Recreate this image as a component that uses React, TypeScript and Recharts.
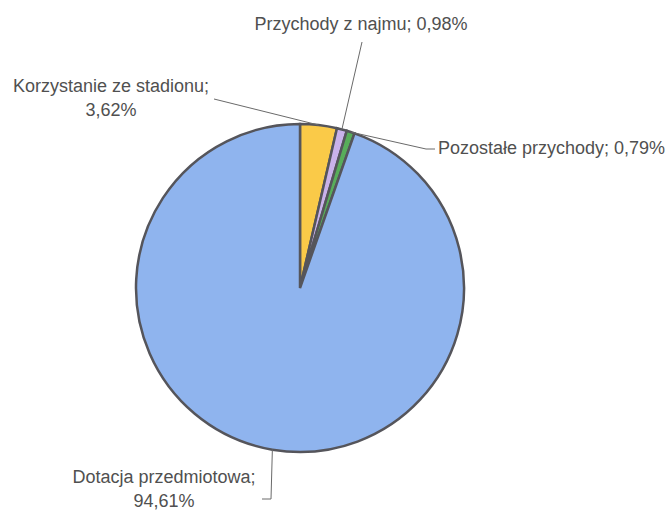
import { Cell, Pie, PieChart } from "recharts";

const categories = [
  "Korzystanie ze stadionu",
  "Przychody z najmu",
  "Pozostałe przychody",
  "Dotacja przedmiotowa",
];
const shares = [3.62, 0.98, 0.79, 94.61];
const colors = ["#FACA48", "#C9B2EA", "#58AD5A", "#8FB4EE"];

// where each label sits and how its leader line bends (lines = text rows)
const labelLayout = [
  { lines: 2, x: 111, y: 92, anchor: "middle", elbow: [[214, 99]] },
  { lines: 1, x: 361, y: 30, anchor: "middle", elbow: [[362, 42]] },
  { lines: 1, x: 438, y: 154, anchor: "start", elbow: [[426, 149], [435, 149]] },
  { lines: 2, x: 164, y: 483, anchor: "middle", elbow: [[271, 499], [262, 499]] },
];

const RADIAN = Math.PI / 180;
const TEXT = "#505050";

const data = categories.map((name, i) => ({ name, value: shares[i] }));

function fmt(v: number) {
  return `${v.toFixed(2).replace(".", ",")}%`;
}

function renderLabel(props: any) {
  const { cx, cy, midAngle, outerRadius, index } = props;
  const layout = labelLayout[index];
  const sx = cx + outerRadius * Math.cos(-midAngle * RADIAN);
  const sy = cy + outerRadius * Math.sin(-midAngle * RADIAN);
  const pts = [[sx, sy], ...layout.elbow].map((p) => p.join(",")).join(" ");
  const name = data[index].name;
  const pct = fmt(data[index].value);
  return (
    <g key={`lbl-${index}`}>
      <polyline points={pts} fill="none" stroke="#6a6a6a" strokeWidth={1} />
      {layout.lines === 2 ? (
        <text x={layout.x} y={layout.y} textAnchor={layout.anchor} fill={TEXT} fontSize={18}>
          <tspan x={layout.x}>{`${name};`}</tspan>
          <tspan x={layout.x} dy={24}>
            {pct}
          </tspan>
        </text>
      ) : (
        <text x={layout.x} y={layout.y} textAnchor={layout.anchor} fill={TEXT} fontSize={18}>
          {`${name}; ${pct}`}
        </text>
      )}
    </g>
  );
}

export default function App() {
  return (
    <div
      style={{
        position: "absolute",
        left: 0,
        top: 0,
        width: 669,
        height: 512,
        background: "#ffffff",
        fontFamily: "'Liberation Sans', Arial, sans-serif",
      }}
    >
      <PieChart width={669} height={512} margin={{ top: 0, right: 0, bottom: 0, left: 0 }}>
        <Pie
          data={data}
          dataKey="value"
          nameKey="name"
          cx={300}
          cy={288}
          outerRadius={164}
          startAngle={90}
          endAngle={-270}
          stroke="#55555b"
          strokeWidth={2.5}
          label={renderLabel}
          labelLine={false}
          isAnimationActive={false}
        >
          {data.map((d, i) => (
            <Cell key={d.name} fill={colors[i]} />
          ))}
        </Pie>
      </PieChart>
    </div>
  );
}
